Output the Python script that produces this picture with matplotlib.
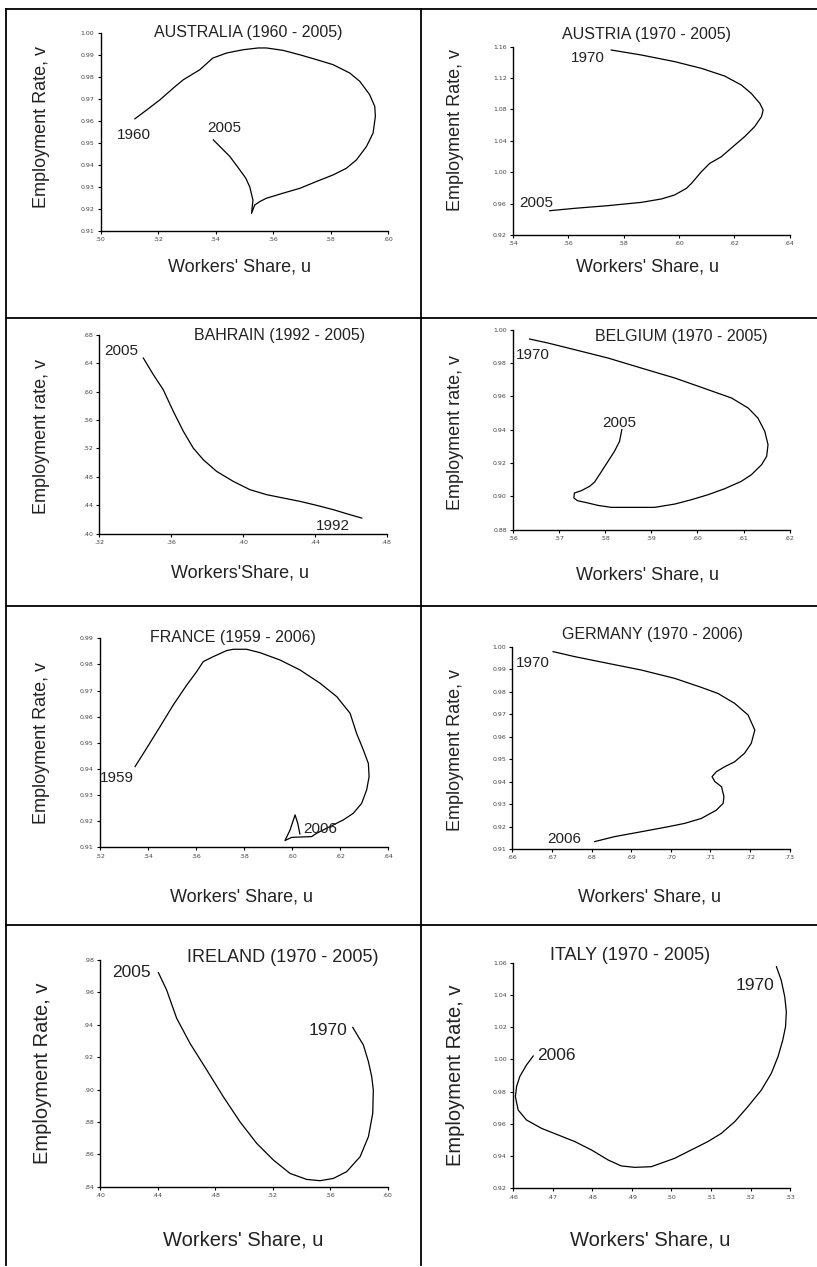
import numpy as np
import matplotlib
matplotlib.use("Agg")
import matplotlib.pyplot as plt
from matplotlib.lines import Line2D
from matplotlib.ticker import FuncFormatter

W, H = 817, 1267

# ---- data (workers' share u, employment rate v)
aus_u = [0.5119, 0.516, 0.5206, 0.5253, 0.5287, 0.5345, 0.539, 0.5438, 0.5496, 0.5548,
         0.5577, 0.5635, 0.5693, 0.5751, 0.5809, 0.5867, 0.5902, 0.5936, 0.5954, 0.5956,
         0.5948, 0.5925, 0.589, 0.5855, 0.5809, 0.5751, 0.5693, 0.5635, 0.5577, 0.5554,
         0.5536, 0.5525, 0.553, 0.5519, 0.5505, 0.5484, 0.545, 0.5415, 0.5392]
aus_v = [0.961, 0.965, 0.9696, 0.975, 0.9787, 0.9833, 0.9886, 0.9909, 0.9924, 0.9932,
         0.9932, 0.9921, 0.9901, 0.9879, 0.9856, 0.9818, 0.978, 0.972, 0.9666, 0.962,
         0.9545, 0.9484, 0.9423, 0.9385, 0.9355, 0.9325, 0.9294, 0.9272, 0.9249, 0.9234,
         0.9218, 0.918, 0.924, 0.930, 0.934, 0.9378, 0.9438, 0.9484, 0.9514]

aut_u = [0.5755, 0.5864, 0.5984, 0.6081, 0.6165, 0.6225, 0.6261, 0.6292, 0.6304, 0.6298,
         0.6273, 0.6237, 0.6195, 0.6153, 0.6111, 0.6081, 0.6045, 0.6027, 0.5984, 0.5936,
         0.5864, 0.5743, 0.5623, 0.5533]
aut_v = [1.1558, 1.1494, 1.141, 1.1324, 1.1226, 1.1112, 1.1005, 1.0878, 1.0793, 1.0708,
         1.058, 1.0453, 1.0326, 1.0198, 1.0113, 1.0007, 0.9858, 0.9795, 0.971, 0.9659,
         0.9616, 0.9574, 0.954, 0.951]

bhr_u = [0.3445, 0.3501, 0.3556, 0.3612, 0.3668, 0.3723, 0.3779, 0.3853, 0.3946, 0.4039,
         0.4132, 0.4224, 0.4317, 0.441, 0.4503, 0.4596, 0.4661]
bhr_v = [0.6472, 0.6237, 0.6026, 0.5721, 0.544, 0.5205, 0.5041, 0.4877, 0.4736, 0.4619,
         0.4549, 0.4502, 0.4455, 0.4399, 0.4338, 0.4267, 0.422]

bel_u = [0.5636, 0.5676, 0.5734, 0.5806, 0.5878, 0.5951, 0.6023, 0.6074, 0.611, 0.6131,
         0.6146, 0.6153, 0.615, 0.6139, 0.6117, 0.6095, 0.6059, 0.6023, 0.5987, 0.5951,
         0.5907, 0.5864, 0.5813, 0.5784, 0.5763, 0.574, 0.5732, 0.5733, 0.5748, 0.5766,
         0.5777, 0.5792, 0.5806, 0.582, 0.5831, 0.5836]
bel_v = [0.9944, 0.992, 0.988, 0.983, 0.977, 0.971, 0.964, 0.959, 0.953, 0.947,
         0.939, 0.931, 0.924, 0.919, 0.913, 0.909, 0.9046, 0.901, 0.898, 0.8954,
         0.8934, 0.8934, 0.8934, 0.8946, 0.896, 0.8974, 0.899, 0.902, 0.9034, 0.906,
         0.9086, 0.915, 0.921, 0.927, 0.933, 0.94]

fra_u = [0.5346, 0.5394, 0.545, 0.5505, 0.5561, 0.5602, 0.563, 0.5672, 0.5727, 0.5755,
         0.581, 0.5866, 0.5949, 0.6032, 0.6116, 0.6185, 0.6241, 0.6268, 0.6296, 0.6317,
         0.632, 0.631, 0.6289, 0.6254, 0.6213, 0.6157, 0.6102, 0.6081, 0.5998, 0.597,
         0.5991, 0.6012, 0.6023, 0.6032]
fra_v = [0.9409, 0.9479, 0.9562, 0.9645, 0.9721, 0.9772, 0.9811, 0.983, 0.9853, 0.9858,
         0.9858, 0.9845, 0.9817, 0.9779, 0.9728, 0.9677, 0.9613, 0.9536, 0.9473, 0.9421,
         0.937, 0.932, 0.9268, 0.923, 0.9205, 0.9179, 0.9154, 0.9141, 0.9138, 0.9126,
         0.9166, 0.9224, 0.9192, 0.9151]

ger_u = [0.6703, 0.6757, 0.6841, 0.6926, 0.701, 0.7077, 0.7119, 0.7161, 0.7195, 0.7212,
         0.7203, 0.7186, 0.7161, 0.7136, 0.7115, 0.7104, 0.7111, 0.7128, 0.7134, 0.7132,
         0.7115, 0.7077, 0.7035, 0.6993, 0.6926, 0.6858, 0.6808]
ger_v = [0.9978, 0.9956, 0.9926, 0.9896, 0.9859, 0.9819, 0.9792, 0.9748, 0.9696, 0.9629,
         0.957, 0.9526, 0.9488, 0.9466, 0.9444, 0.9422, 0.94, 0.9377, 0.9333, 0.9303,
         0.9273, 0.9236, 0.9214, 0.9199, 0.9177, 0.9155, 0.9133]

irl_u = [0.4406, 0.4463, 0.4533, 0.4626, 0.4742, 0.4857, 0.4973, 0.5089, 0.5205, 0.5321,
         0.5437, 0.553, 0.5622, 0.5715, 0.5808, 0.5866, 0.5896, 0.59, 0.5889, 0.5866,
         0.5831, 0.5796, 0.5757]
irl_v = [0.9722, 0.9615, 0.944, 0.9285, 0.9121, 0.8956, 0.8801, 0.8668, 0.8565, 0.8482,
         0.8445, 0.8437, 0.8451, 0.8493, 0.8585, 0.8709, 0.8853, 0.8997, 0.9079, 0.9172,
         0.9275, 0.9326, 0.9384]

ita_u = [0.5265, 0.5277, 0.5286, 0.529, 0.5288, 0.5281, 0.5269, 0.5252, 0.5227, 0.5193,
         0.516, 0.5126, 0.5092, 0.505, 0.5008, 0.4949, 0.4907, 0.4873, 0.484, 0.4798,
         0.4756, 0.4714, 0.4672, 0.4634, 0.4613, 0.4606, 0.4609, 0.4617, 0.4634, 0.4651]
ita_v = [1.0575, 1.0492, 1.0389, 1.0296, 1.0203, 1.012, 1.0017, 0.9913, 0.981, 0.9707,
         0.9614, 0.9541, 0.949, 0.9438, 0.9386, 0.9334, 0.933, 0.9339, 0.9376, 0.9438,
         0.949, 0.9531, 0.9572, 0.9624, 0.9686, 0.9769, 0.9831, 0.9893, 0.9965, 1.0021]

titles = ["AUSTRALIA (1960 - 2005)", "AUSTRIA (1970 - 2005)", "BAHRAIN (1992 - 2005)",
          "BELGIUM (1970 - 2005)", "FRANCE (1959 - 2006)", "GERMANY (1970 - 2006)",
          "IRELAND (1970 - 2005)", "ITALY (1970 - 2005)"]
ylabels = ["Employment Rate, v", "Employment Rate, v", "Employment rate, v",
           "Employment rate, v", "Employment Rate, v", "Employment Rate, v",
           "Employment Rate, v", "Employment Rate, v"]
xlabels = ["Workers' Share, u", "Workers' Share, u", "Workers'Share, u",
           "Workers' Share, u", "Workers' Share, u", "Workers' Share, u",
           "Workers' Share, u", "Workers' Share, u"]

# year annotations: (text, u, v)
year_labels = [
    [("1960", 0.5115, 0.9537), ("2005", 0.5429, 0.9567)],
    [("1970", 0.5671, 1.1451), ("2005", 0.5484, 0.9604)],
    [("2005", 0.3324, 0.6566), ("1992", 0.4503, 0.4103)],
    [("1970", 0.5643, 0.985), ("2005", 0.5831, 0.944)],
    [("1959", 0.5269, 0.9364), ("2006", 0.6116, 0.9169)],
    [("1970", 0.6652, 0.9926), ("2006", 0.6732, 0.9143)],
    [("2005", 0.422, 0.9724), ("1970", 0.5587, 0.9364)],
    [("1970", 0.521, 1.0461), ("2006", 0.4709, 1.0027)],
]

xlims = [(0.50, 0.60, 0.02), (0.54, 0.64, 0.02), (0.32, 0.48, 0.04), (0.56, 0.62, 0.01),
         (0.52, 0.64, 0.02), (0.66, 0.73, 0.01), (0.40, 0.60, 0.04), (0.46, 0.53, 0.01)]
ylims = [(0.91, 1.00, 0.01), (0.92, 1.16, 0.04), (0.40, 0.68, 0.04), (0.88, 1.00, 0.02),
         (0.91, 0.99, 0.01), (0.91, 1.00, 0.01), (0.84, 0.98, 0.02), (0.92, 1.06, 0.02)]
# y tick labels keep the leading zero?
ylead = [True, True, False, True, True, True, False, True]

series = [(aus_u, aus_v), (aut_u, aut_v), (bhr_u, bhr_v), (bel_u, bel_v),
          (fra_u, fra_v), (ger_u, ger_v), (irl_u, irl_v), (ita_u, ita_v)]

# ---- layout in pixels: axes box (left, top, right, bottom), label / title centres
boxes = [(100.7, 33, 388, 231), (513, 46.7, 789.7, 235),
         (99.3, 334.7, 386.7, 533.7), (513, 329.7, 789.7, 529.7),
         (100, 638.3, 388.3, 847.3), (512.3, 646.7, 789.7, 849),
         (100, 960, 387.7, 1186.7), (513, 962.7, 790.3, 1188.3)]
title_pos = [(248, 33), (646, 35), (280, 335), (681, 336),
             (233, 637), (653, 635), (283, 957), (630, 955)]
ylab_pos = [(42, 127), (456, 130), (42, 436), (455, 433),
            (42, 743), (455, 750), (43, 1073), (455, 1075)]
xlab_pos = [(240, 267), (648, 267), (240, 573), (648, 575),
            (242, 897), (650, 897), (243, 1240), (650, 1240)]

plain = ["Liberation Sans", "DejaVu Sans"]


def fx(px):
    return px / W


def fy(py):
    return 1 - py / H


def tick_fmt(lead):
    def f(v, pos):
        s = f"{v:.2f}"
        if not lead and s.startswith("0"):
            s = s[1:]
        return s
    return FuncFormatter(f)


fig = plt.figure(figsize=(W / 100, H / 100), dpi=100)

for i in range(8):
    l, t, r, b = boxes[i]
    ax = fig.add_axes([fx(l), fy(b), (r - l) / W, (b - t) / H])
    u, v = series[i]
    ax.plot(u, v, color="black", lw=0.9)
    x0, x1, xs = xlims[i]
    y0, y1, ys = ylims[i]
    ax.set_xlim(x0, x1)
    ax.set_ylim(y0, y1)
    ax.set_xticks(np.arange(x0, x1 + xs / 2, xs))
    ax.set_yticks(np.arange(y0, y1 + ys / 2, ys))
    ax.xaxis.set_major_formatter(tick_fmt(False))
    ax.yaxis.set_major_formatter(tick_fmt(ylead[i]))
    for s in ["top", "right"]:
        ax.spines[s].set_visible(False)
    for s in ["left", "bottom"]:
        ax.spines[s].set_linewidth(1.0)
    ax.tick_params(direction="out", length=2.5, width=0.8, labelsize=4.5, pad=2,
                   colors="black")
    for lab in ax.get_xticklabels() + ax.get_yticklabels():
        lab.set_color("#444444")

    big = i >= 6
    for txt, xu, yv in year_labels[i]:
        ax.text(xu, yv, txt, ha="center", va="center", fontsize=12.5 if big else 11,
                family=plain, color="#222222")

    fig.text(fx(title_pos[i][0]), fy(title_pos[i][1]), titles[i], ha="center",
             va="center", fontsize=13 if big else 11.5, family=plain, color="#222222")
    fig.text(fx(ylab_pos[i][0]), fy(ylab_pos[i][1]), ylabels[i], ha="center",
             va="center", rotation=90, fontsize=14.5 if big else 13, family=plain,
             color="#222222")
    fig.text(fx(xlab_pos[i][0]), fy(xlab_pos[i][1]), xlabels[i], ha="center",
             va="center", fontsize=14.5 if big else 13, family=plain, color="#222222")

# ---- cell borders of the table
lines = [((6, 817), (9, 9)), ((6, 817), (318, 318)), ((6, 817), (606, 606)),
         ((6, 817), (925, 925)), ((6, 6), (9, 1265)), ((421, 421), (9, 1265))]
for xs_, ys_ in lines:
    fig.add_artist(Line2D([fx(xs_[0]), fx(xs_[1])], [fy(ys_[0]), fy(ys_[1])],
                          transform=fig.transFigure, color="black", lw=1.3))

fig.savefig("out.png", dpi=100)
